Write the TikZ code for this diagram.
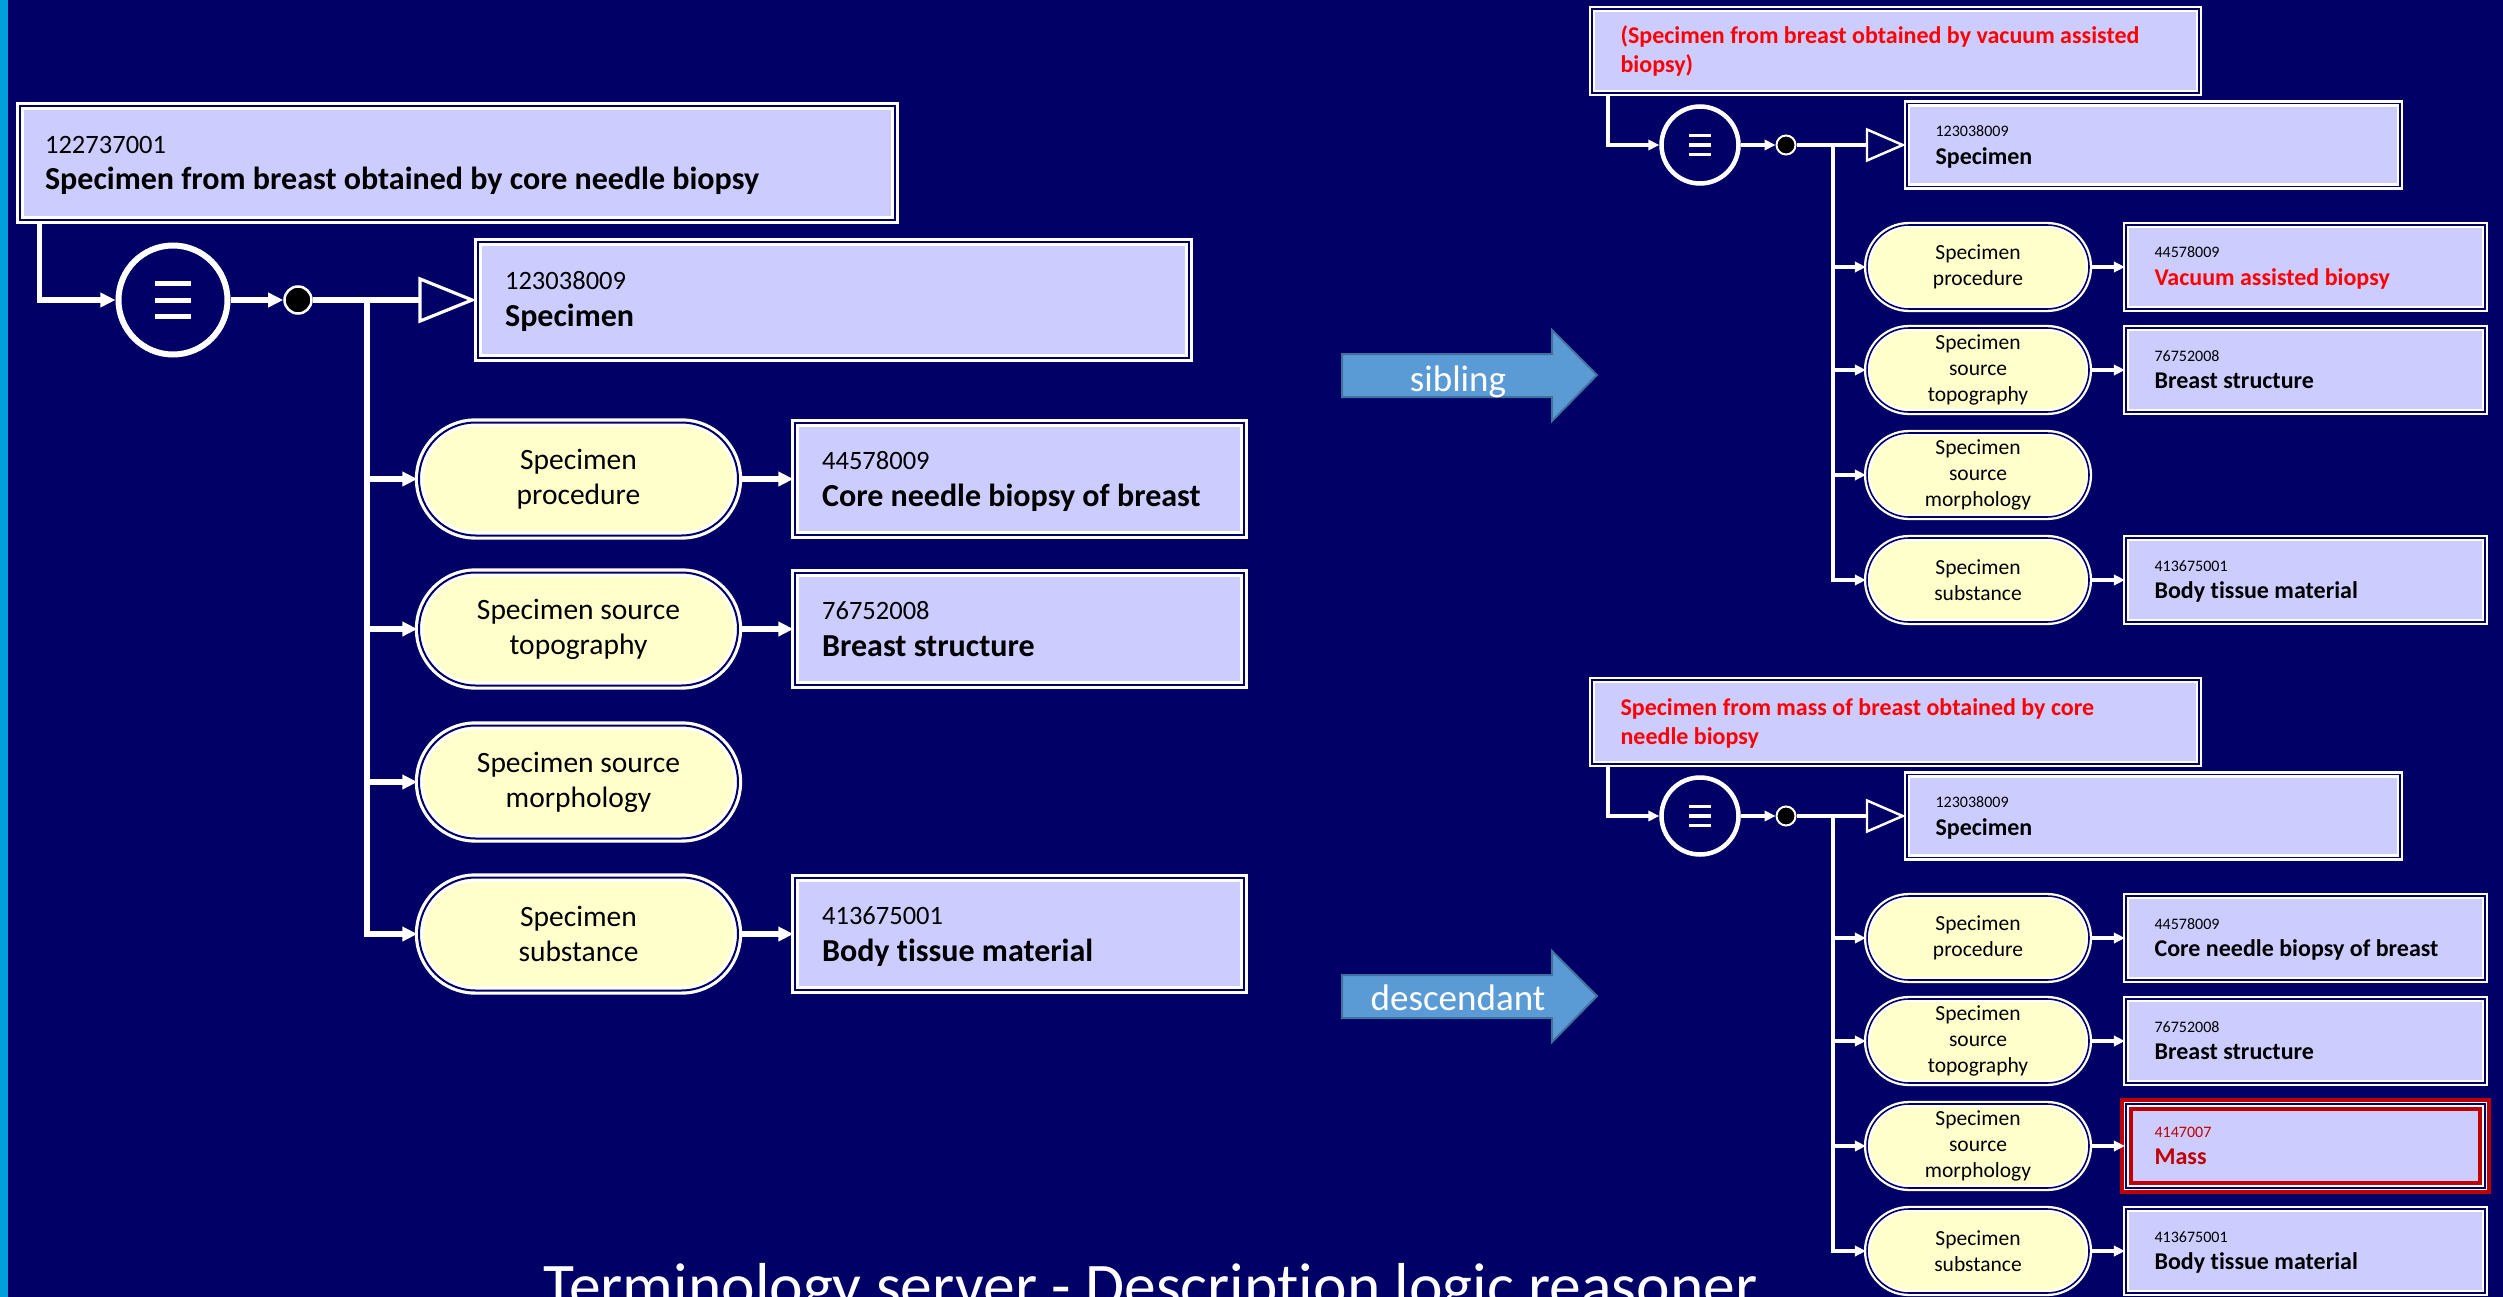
\documentclass[tikz,border=0pt]{standalone}
\usepackage{fontspec}
\setmainfont{Carlito}[Ligatures=NoCommon]
\usetikzlibrary{arrows.meta,shapes.misc,calc}

% one unit = one pixel of the drawing grid
\newdimen\pxu \pxu=0.01cm
\newcommand\pxfont[2]{\pgfmathsetmacro\pxfa{#1*0.284528}\pgfmathsetmacro\pxfb{#2*0.284528}\fontsize{\pxfa pt}{\pxfb pt}\selectfont}

\definecolor{bgnavy}{HTML}{000066}
\definecolor{stripblue}{HTML}{00A0DC}
\definecolor{lav}{HTML}{CCCCFF}
\definecolor{pyel}{HTML}{FFFFCC}
\definecolor{hotred}{HTML}{FF0000}
\definecolor{darkred}{HTML}{C00000}
\definecolor{arrfill}{HTML}{5B9BD5}
\definecolor{arrline}{HTML}{41719C}

\tikzset{
  cbox/.style={rectangle, inner sep=0pt, draw=white, double=bgnavy, fill=lav},
  cboxL/.style={cbox, line width=3.2\pxu, double distance=2\pxu},
  cboxS/.style={cbox, line width=2.3\pxu, double distance=1.6\pxu},
  pill/.style={rounded rectangle, inner sep=0pt, draw=white, double=bgnavy, fill=pyel, align=center, text=black},
  pillL/.style={pill, line width=3.2\pxu, double distance=2\pxu, minimum width=319\pxu, minimum height=113\pxu, font=\pxfont{29.5}{35}},
  pillS/.style={pill, line width=2.3\pxu, double distance=1.6\pxu, minimum width=222\pxu, minimum height=84\pxu, font=\pxfont{21.5}{26}},
  eqL/.style={circle, inner sep=0pt, draw=white, fill=bgnavy, line width=6\pxu, minimum size=109\pxu},
  eqS/.style={circle, inner sep=0pt, draw=white, fill=bgnavy, line width=4.5\pxu, minimum size=77\pxu},
  dotL/.style={circle, inner sep=0pt, draw=white, fill=black, line width=2.5\pxu, minimum size=27\pxu},
  dotS/.style={circle, inner sep=0pt, draw=white, fill=black, line width=2\pxu, minimum size=19\pxu},
  linkL/.style={draw=white, line width=5.5\pxu, -{Triangle[length=4.3pt,width=4pt]}},
  linkS/.style={draw=white, line width=4\pxu, -{Triangle[length=3.1pt,width=2.9pt]}},
  isaL/.style={draw=white, line width=5.5\pxu, -{Triangle[open, length=16.5pt, width=13.1pt, line width=0.9pt]}},
  isaS/.style={draw=white, line width=4\pxu, -{Triangle[open, length=11.4pt, width=9.7pt, line width=0.7pt]}},
  idL/.style={anchor=base west, inner sep=0pt, font=\pxfont{26.5}{30}},
  nameL/.style={anchor=base west, inner sep=0pt, font=\bfseries\pxfont{32}{37}},
  idS/.style={anchor=base west, inner sep=0pt, font=\pxfont{16}{19}},
  nameS/.style={anchor=base west, inner sep=0pt, font=\bfseries\pxfont{24}{28}},
  defS/.style={anchor=base west, inner sep=0pt, font=\bfseries\pxfont{24}{29}, text=hotred},
  blockarrow/.style={fill=arrfill, draw=arrline, line width=2\pxu},
  arrlabel/.style={text=white, font=\pxfont{37}{44}, anchor=base, inner sep=0pt},
  eqbar/.style={fill=white},
}

\begin{document}
\begin{tikzpicture}[x=0.01cm, y=-0.01cm]
\useasboundingbox (0,0) rectangle (2503,1297);
\fill[bgnavy] (0,0) rectangle (2503,1297);
\fill[stripblue] (0,0) rectangle (8,1297);

% ---------------- left: defined concept ----------------
\node[cboxL, minimum width=875\pxu, minimum height=114\pxu] (A) at (457.5,163) {};
\node[idL] (A-id) at ($(A.west)+(26,-10)$) {122737001};
\node[nameL] (A-name) at ($(A.west)+(26,27)$) {Specimen from breast obtained by core needle biopsy};

\node[eqL] (eqA) at (173,300) {};
\foreach \dy in {-16.5,0,16.5} \fill[eqbar] ($(eqA)+(-18,\dy-2.5)$) rectangle ++(36,5);
\node[dotL] (dotA) at (298,300) {};

\node[cboxL, minimum width=711\pxu, minimum height=116\pxu] (B) at (833.5,300) {};
\node[idL] (B-id) at ($(B.west)+(28,-10)$) {123038009};
\node[nameL] (B-name) at ($(B.west)+(28,27)$) {Specimen};

\coordinate (brA) at (367,300);
\draw[linkL] ($(A.south west)+(21,0)$) |- (eqA.west);
\draw[linkL] (eqA.east) -- (dotA.west);
\draw[isaL] (dotA.east) -- (B.west);

\node[pillL] (pA1) at (578.5,479) {Specimen\\procedure};
\node[pillL] (pA2) at (578.5,629) {Specimen source\\topography};
\node[pillL] (pA3) at (578.5,782) {Specimen source\\morphology};
\node[pillL] (pA4) at (578.5,934) {Specimen\\substance};

\node[cboxL, minimum width=449\pxu, minimum height=112\pxu] (tA1) at (1019.5,479) {};
\node[idL] (tA1-id) at ($(tA1.west)+(28,-10)$) {44578009};
\node[nameL] (tA1-name) at ($(tA1.west)+(28,27)$) {Core needle biopsy of breast};
\node[cboxL, minimum width=449\pxu, minimum height=112\pxu] (tA2) at (1019.5,629) {};
\node[idL] (tA2-id) at ($(tA2.west)+(28,-10)$) {76752008};
\node[nameL] (tA2-name) at ($(tA2.west)+(28,27)$) {Breast structure};
\node[cboxL, minimum width=449\pxu, minimum height=112\pxu] (tA4) at (1019.5,934) {};
\node[idL] (tA4-id) at ($(tA4.west)+(28,-10)$) {413675001};
\node[nameL] (tA4-name) at ($(tA4.west)+(28,27)$) {Body tissue material};

\foreach \k in {1,2,3,4} \draw[linkL] (brA) |- (pA\k.west);
\foreach \k in {1,2,4} \draw[linkL] (pA\k.east) -- (tA\k.west);

% ---------------- middle: block arrows ----------------
\fill[blockarrow] (1342,354) -- (1552,354) -- (1552,330) -- (1597,375) -- (1552,421) -- (1552,397) -- (1342,397) -- cycle;
\node[arrlabel] (sib) at (1458,391) {sibling};
\fill[blockarrow] (1342,975) -- (1552,975) -- (1552,951) -- (1597,996) -- (1552,1042) -- (1552,1018) -- (1342,1018) -- cycle;
\node[arrlabel] (desc) at (1458,1010) {descendant};

% ---------------- right top: sibling concept ----------------
\node[cboxS, minimum width=607\pxu, minimum height=84\pxu] (C) at (1895.5,51) {};
\node[defS] (C-l1) at ($(C.west)+(29,-7)$) {(Specimen from breast obtained by vacuum assisted};
\node[defS] (C-l2) at ($(C.west)+(29,22)$) {biopsy)};

\node[eqS] (eqC) at (1700,145) {};
\foreach \dy in {-9.5,0,9.5} \fill[eqbar] ($(eqC)+(-11,\dy-1.75)$) rectangle ++(22,3.5);
\node[dotS] (dotC) at (1786,145) {};
\node[cboxS, minimum width=493\pxu, minimum height=83\pxu] (D) at (2153.5,145) {};
\node[idS] (D-id) at ($(D.west)+(29,-8.5)$) {123038009};
\node[nameS] (D-name) at ($(D.west)+(29,19.5)$) {Specimen};

\coordinate (brC) at (1833,145);
\draw[linkS] ($(C.south west)+(17,0)$) |- (eqC.west);
\draw[linkS] (eqC.east) -- (dotC.west);
\draw[isaS] (dotC.east) -- (D.west);

\node[pillS] (pC1) at (1978,267) {Specimen\\procedure};
\node[pillS] (pC2) at (1978,370) {Specimen\\source\\topography};
\node[pillS] (pC3) at (1978,475) {Specimen\\source\\morphology};
\node[pillS] (pC4) at (1978,580) {Specimen\\substance};

\node[cboxS, minimum width=359\pxu, minimum height=84\pxu] (tC1) at (2305.5,267) {};
\node[idS] (tC1-id) at ($(tC1.west)+(29,-9)$) {44578009};
\node[nameS, text=hotred] (tC1-name) at ($(tC1.west)+(29,18.5)$) {Vacuum assisted biopsy};
\node[cboxS, minimum width=359\pxu, minimum height=84\pxu] (tC2) at (2305.5,370) {};
\node[idS] (tC2-id) at ($(tC2.west)+(29,-9)$) {76752008};
\node[nameS] (tC2-name) at ($(tC2.west)+(29,18.5)$) {Breast structure};
\node[cboxS, minimum width=359\pxu, minimum height=84\pxu] (tC4) at (2305.5,580) {};
\node[idS] (tC4-id) at ($(tC4.west)+(29,-9)$) {413675001};
\node[nameS] (tC4-name) at ($(tC4.west)+(29,18.5)$) {Body tissue material};

\foreach \k in {1,2,3,4} \draw[linkS] (brC) |- (pC\k.west);
\foreach \k in {1,2,4} \draw[linkS] (pC\k.east) -- (tC\k.west);

% ---------------- right bottom: descendant concept ----------------
\node[cboxS, minimum width=607\pxu, minimum height=84\pxu] (E) at (1895.5,722) {};
\node[defS] (E-l1) at ($(E.west)+(29,-7)$) {Specimen from mass of breast obtained by core};
\node[defS] (E-l2) at ($(E.west)+(29,22)$) {needle biopsy};

\node[eqS] (eqE) at (1700,816) {};
\foreach \dy in {-9.5,0,9.5} \fill[eqbar] ($(eqE)+(-11,\dy-1.75)$) rectangle ++(22,3.5);
\node[dotS] (dotE) at (1786,816) {};
\node[cboxS, minimum width=493\pxu, minimum height=83\pxu] (F) at (2153.5,816) {};
\node[idS] (F-id) at ($(F.west)+(29,-8.5)$) {123038009};
\node[nameS] (F-name) at ($(F.west)+(29,19.5)$) {Specimen};

\coordinate (brE) at (1833,816);
\draw[linkS] ($(E.south west)+(17,0)$) |- (eqE.west);
\draw[linkS] (eqE.east) -- (dotE.west);
\draw[isaS] (dotE.east) -- (F.west);

\node[pillS] (pE1) at (1978,938) {Specimen\\procedure};
\node[pillS] (pE2) at (1978,1041) {Specimen\\source\\topography};
\node[pillS] (pE3) at (1978,1146) {Specimen\\source\\morphology};
\node[pillS] (pE4) at (1978,1251) {Specimen\\substance};

\node[cboxS, minimum width=359\pxu, minimum height=84\pxu] (tE1) at (2305.5,938) {};
\node[idS] (tE1-id) at ($(tE1.west)+(29,-9)$) {44578009};
\node[nameS] (tE1-name) at ($(tE1.west)+(29,18.5)$) {Core needle biopsy of breast};
\node[cboxS, minimum width=359\pxu, minimum height=84\pxu] (tE2) at (2305.5,1041) {};
\node[idS] (tE2-id) at ($(tE2.west)+(29,-9)$) {76752008};
\node[nameS] (tE2-name) at ($(tE2.west)+(29,18.5)$) {Breast structure};
\node[cboxS, minimum width=359\pxu, minimum height=84\pxu] (tE3) at (2305.5,1146) {};
\draw[darkred, line width=4.5\pxu] ($(tE3.south west)+(-3,3)$) rectangle ($(tE3.north east)+(3,-3)$);
\draw[darkred, line width=4\pxu] ($(tE3.south west)+(6.5,-6.5)$) rectangle ($(tE3.north east)+(-6.5,6.5)$);
\node[idS, text=darkred] (tE3-id) at ($(tE3.west)+(29,-9)$) {4147007};
\node[nameS, text=darkred] (tE3-name) at ($(tE3.west)+(29,18.5)$) {Mass};
\node[cboxS, minimum width=359\pxu, minimum height=84\pxu] (tE4) at (2305.5,1251) {};
\node[idS] (tE4-id) at ($(tE4.west)+(29,-9)$) {413675001};
\node[nameS] (tE4-name) at ($(tE4.west)+(29,18.5)$) {Body tissue material};

\foreach \k in {1,2,3,4} \draw[linkS] (brE) |- (pE\k.west);
\foreach \k in {1,2,3,4} \draw[linkS] (pE\k.east) -- (tE\k.west);

% ---------------- caption ----------------
\node[anchor=base west, inner sep=0pt, text=white, font=\pxfont{63.5}{70}] (caption) at (543,1307) {Terminology server - Description logic reasoner};
\end{tikzpicture}
\end{document}
